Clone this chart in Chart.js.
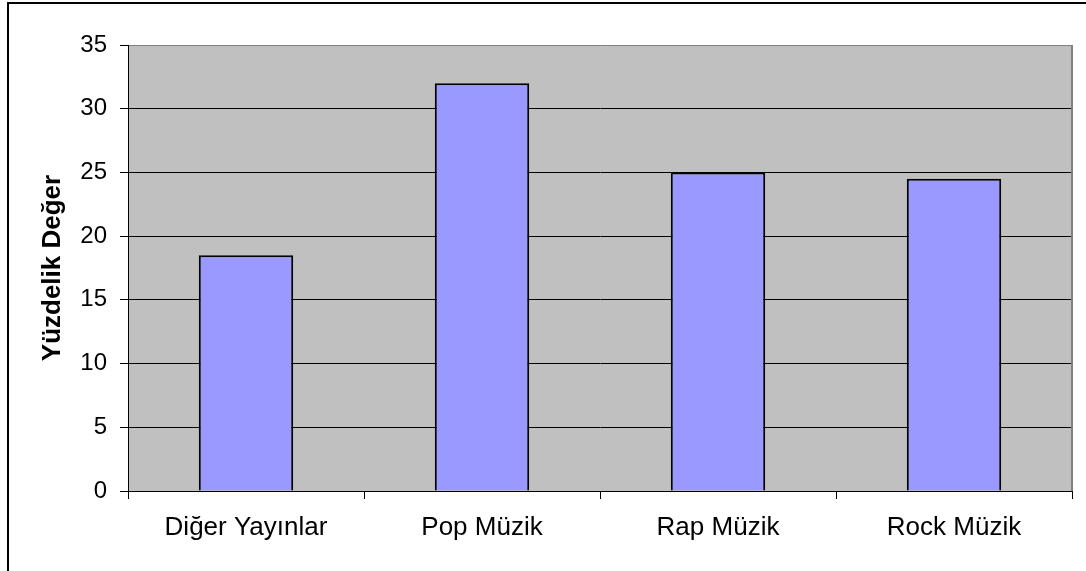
<!DOCTYPE html>
<html>
<head>
<meta charset="utf-8">
<script src="https://cdn.jsdelivr.net/npm/chart.js@4"></script>
<style>
  html, body { margin: 0; padding: 0; background: #fff; overflow: hidden; }
  #frame { position: absolute; left: 7px; top: 2px; width: 1200px; height: 700px; border: 2px solid #000; }
  #chart { position: absolute; left: 0; top: 0; }
</style>
</head>
<body>
<div id="frame"></div>
<canvas id="chart" width="1086" height="571"></canvas>
<script>
// Chart data
const categories = ['Diğer Yayınlar', 'Pop Müzik', 'Rap Müzik', 'Rock Müzik'];
const values = [18.5, 32, 25, 24.5];
const yTicks = { min: 0, max: 35, step: 5 };
const yTitle = 'Yüzdelik Değer';

// Gray plot area with a gray top/right edge, like the old spreadsheet charts
const plotArea = {
  id: 'plotArea',
  beforeDraw(chart) {
    const { ctx, chartArea: a } = chart;
    ctx.save();
    ctx.fillStyle = '#c0c0c0';
    ctx.fillRect(a.left, a.top, a.right - a.left, a.bottom - a.top);
    ctx.restore();
  },
  afterDatasetsDraw(chart) {
    const { ctx, chartArea: a } = chart;
    ctx.save();
    ctx.strokeStyle = '#808080';
    ctx.lineWidth = 2;
    ctx.beginPath();
    ctx.moveTo(a.right, a.top);
    ctx.lineTo(a.right, a.bottom);
    ctx.stroke();
    ctx.restore();
  }
};

new Chart(document.getElementById('chart'), {
  type: 'bar',
  data: {
    labels: categories,
    datasets: [{
      data: values,
      backgroundColor: '#9999ff',
      borderColor: '#000',
      borderWidth: 2,
      categoryPercentage: 1,
      barPercentage: 0.4
    }]
  },
  options: {
    responsive: false,
    devicePixelRatio: 1,
    animation: false,
    layout: { padding: { top: 45, right: 14, left: 0, bottom: 0 } },
    plugins: {
      legend: { display: false },
      tooltip: { enabled: false }
    },
    scales: {
      x: {
        afterFit: s => { s.height = 80; },
        grid: { drawOnChartArea: false, drawTicks: true, tickLength: 8, color: '#000' },
        border: { color: '#000', width: 1 },
        ticks: {
          padding: 13,
          color: '#000',
          font: { family: '"Liberation Sans", Arial, sans-serif', size: 26 }
        }
      },
      y: {
        min: yTicks.min,
        max: yTicks.max,
        afterFit: s => { s.width = 128; },
        grid: {
          color: c => (c.tick && c.tick.value === yTicks.max ? '#808080' : '#000'),
          tickColor: '#000',
          tickLength: 8,
          lineWidth: 1
        },
        border: { color: '#000', width: 1 },
        ticks: {
          stepSize: yTicks.step,
          padding: 13,
          color: '#000',
          font: { family: '"Liberation Sans", Arial, sans-serif', size: 24 }
        },
        title: {
          display: true,
          text: yTitle,
          color: '#000',
          padding: { top: 37, bottom: 0 },
          font: { family: '"Liberation Sans", Arial, sans-serif', size: 26, weight: 'bold' }
        }
      }
    }
  },
  plugins: [plotArea]
});
</script>
</body>
</html>
